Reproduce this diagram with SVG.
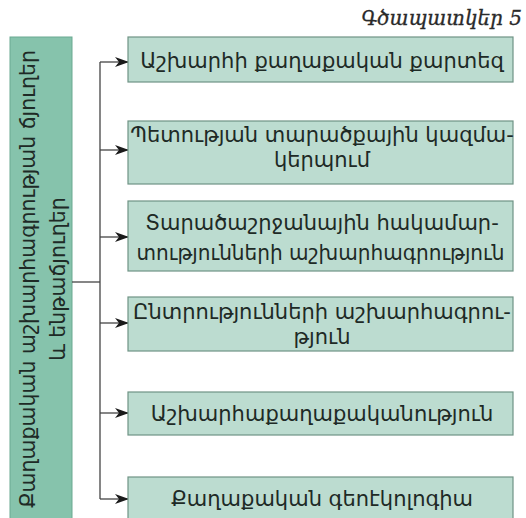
<svg xmlns="http://www.w3.org/2000/svg" width="526" height="518" viewBox="0 0 526 518">
<defs>
<style>
.box{fill:#bcdcd0;stroke:#6f9385;stroke-width:1.2}
.main{fill:#86c3ac;stroke:#6aa991;stroke-width:1}
.t{font-family:"DejaVu Sans","Noto Sans",sans-serif;font-size:21px;fill:#1e2a26;text-anchor:middle}
.v{font-family:"DejaVu Sans","Noto Sans",sans-serif;font-size:20.5px;fill:#1e2a26;text-anchor:middle}
.ttl{font-family:"DejaVu Serif","Liberation Serif",serif;font-style:italic;font-size:20px;fill:#2a2a2a;stroke:#2a2a2a;stroke-width:0.3;text-anchor:end}
.ln{stroke:#444;stroke-width:1.3;fill:none}
</style>
<marker id="ah" markerWidth="14" markerHeight="10" refX="13" refY="5" orient="auto" markerUnits="userSpaceOnUse">
<path d="M0,0 L14,5 L0,10 L4,5 Z" fill="#1a1a1a"/>
</marker>
</defs>
<rect width="526" height="518" fill="#ffffff"/>
<text class="ttl" x="522" y="25">Գծապատկեր 5</text>
<g id="main">
<rect class="main" x="10" y="37" width="62" height="485"/>
<text class="v" transform="translate(35,279) rotate(-90)">Քաղաքական աշխարհագրության ճյուղեր</text>
<text class="v" transform="translate(65,279) rotate(-90)">և ենթաճյուղեր</text>
</g>
<g id="connectors">
<path class="ln" d="M72,282 H100"/>
<path class="ln" d="M100,62 V499"/>
<path class="ln" d="M100,62 H128" marker-end="url(#ah)"/>
<path class="ln" d="M100,150 H128" marker-end="url(#ah)"/>
<path class="ln" d="M100,237 H128" marker-end="url(#ah)"/>
<path class="ln" d="M100,323 H128" marker-end="url(#ah)"/>
<path class="ln" d="M100,413 H128" marker-end="url(#ah)"/>
<path class="ln" d="M100,499 H128" marker-end="url(#ah)"/>
</g>
<g id="n1">
<rect class="box" x="128" y="37" width="385" height="45"/>
<text class="t" x="322" y="68">Աշխարհի քաղաքական քարտեզ</text>
</g>
<g id="n2">
<rect class="box" x="128" y="121" width="385" height="63"/>
<text class="t" x="322" y="142">Պետության տարածքային կազմա-</text>
<text class="t" x="322" y="167">կերպում</text>
</g>
<g id="n3">
<rect class="box" x="128" y="201" width="385" height="70"/>
<text class="t" x="322" y="230">Տարածաշրջանային հակամար-</text>
<text class="t" x="320.5" y="260" textLength="368" lengthAdjust="spacingAndGlyphs">տությունների աշխարհագրություն</text>
</g>
<g id="n4">
<rect class="box" x="128" y="297" width="385" height="54"/>
<text class="t" x="322" y="319">Ընտրությունների աշխարհագրու-</text>
<text class="t" x="322" y="344">թյուն</text>
</g>
<g id="n5">
<rect class="box" x="128" y="392" width="385" height="43"/>
<text class="t" x="322" y="421">Աշխարհաքաղաքականություն</text>
</g>
<g id="n6">
<rect class="box" x="128" y="477" width="385" height="45"/>
<text class="t" x="322" y="506">Քաղաքական գեոէկոլոգիա</text>
</g>
</svg>
